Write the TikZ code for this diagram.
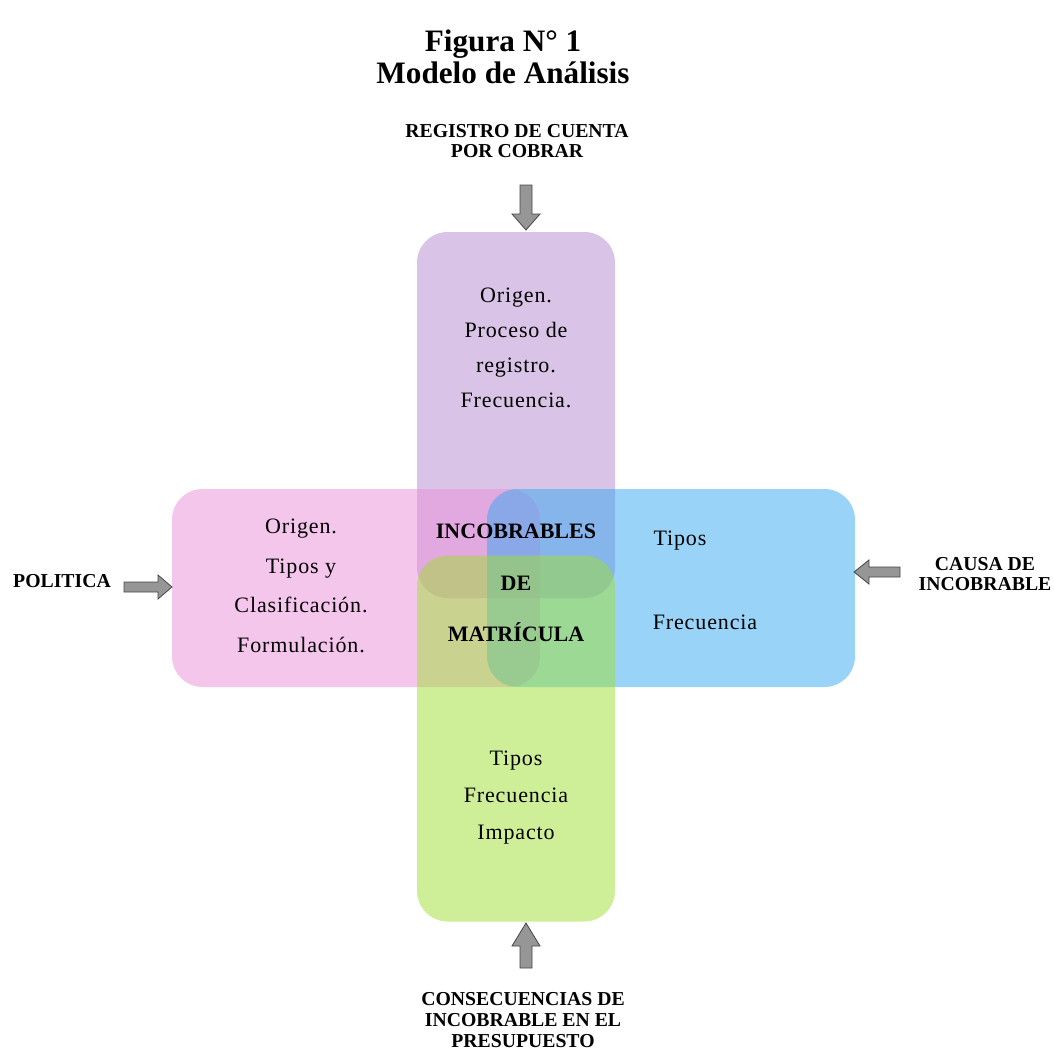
\documentclass[tikz,border=0pt]{standalone}
\usepackage{fontspec}
\setmainfont{Liberation Serif}
\newfontfamily\bodyfont[LetterSpace=4]{Liberation Serif}
\definecolor{cPurple}{RGB}{180,136,206}
\definecolor{cPink}{RGB}{236,142,218}
\definecolor{cBlue}{RGB}{52,168,240}
\definecolor{cGreen}{RGB}{160,222,50}
\definecolor{cArrow}{RGB}{150,150,150}
\definecolor{cArrowEdge}{RGB}{70,70,70}
\begin{document}
\begin{tikzpicture}[x=0.75pt,y=-0.75pt,
  box/.style={rectangle, rounded corners=23pt, draw=none, fill opacity=0.5, inner sep=0pt},
  vbox/.style={box, minimum width=148.5pt, minimum height=274.5pt},
  hbox/.style={box, minimum width=276pt, minimum height=148.5pt},
  blockarrow/.style={fill=cArrow, draw=cArrowEdge, line width=0.6pt, line join=miter},
  lbl/.style={font=\bfseries\fontsize{14.8}{15.5}\selectfont, align=center, inner sep=0pt},
  body/.style={align=center, inner sep=0pt}
]
\useasboundingbox (0,0) rectangle (1054,1053);
% title
\node[font=\bfseries\fontsize{23.4}{24}\selectfont, align=center, inner sep=0pt] (title) at (503,57) {Figura N° 1\\Modelo de Análisis};
% boxes
\node[vbox, fill=cPurple] (purple) at (516,415) {};
\node[hbox, fill=cPink] (pink) at (356,588) {};
\node[hbox, fill=cBlue] (blue) at (671,588) {};
\node[vbox, fill=cGreen] (green) at (516,738.5) {};
% box texts
\node[body, font=\bodyfont\fontsize{16.5}{26.25}\selectfont] (ptext) at (516,348) {Origen.\\Proceso de\\registro.\\Frecuencia.};
\node[body, font=\bodyfont\fontsize{16.5}{29.8}\selectfont] (ktext) at (301,586) {Origen.\\Tipos y\\Clasificación.\\Formulación.};
\node[body, font=\bfseries\fontsize{16.5}{38.6}\selectfont] (ctext) at (516,583) {INCOBRABLES\\DE\\MATRÍCULA};
\node[body, font=\bodyfont\fontsize{16.5}{18}\selectfont] (btext1) at (680,541) {Tipos};
\node[body, font=\bodyfont\fontsize{16.5}{18}\selectfont] (btext2) at (705,622) {Frecuencia};
\node[body, font=\bodyfont\fontsize{16.5}{27.75}\selectfont] (gtext) at (516,798) {Tipos\\Frecuencia\\Impacto};
% labels
\node[lbl] (ltop) at (517,141) {REGISTRO DE CUENTA\\POR COBRAR};
\node[lbl] (lleft) at (62,581) {POLITICA};
\node[lbl] (lright) at (985,574) {CAUSA DE\\INCOBRABLE};
\node[lbl, font=\bfseries\fontsize{14.8}{15.75}\selectfont] (lbottom) at (523,1020) {CONSECUENCIAS DE\\INCOBRABLE EN EL\\PRESUPUESTO};
% block arrows
\draw[blockarrow] (520,185) -- (532,185) -- (532,214) -- (540,214) -- (526,230) -- (512,214) -- (520,214) -- cycle;
\draw[blockarrow] (124,582) -- (158,582) -- (158,575) -- (172,587) -- (158,599) -- (158,592) -- (124,592) -- cycle;
\draw[blockarrow] (900,567) -- (869,567) -- (869,560) -- (854,572) -- (869,584) -- (869,577) -- (900,577) -- cycle;
\draw[blockarrow] (520,968) -- (532,968) -- (532,946) -- (540,946) -- (526,923) -- (512,946) -- (520,946) -- cycle;
\end{tikzpicture}
\end{document}
